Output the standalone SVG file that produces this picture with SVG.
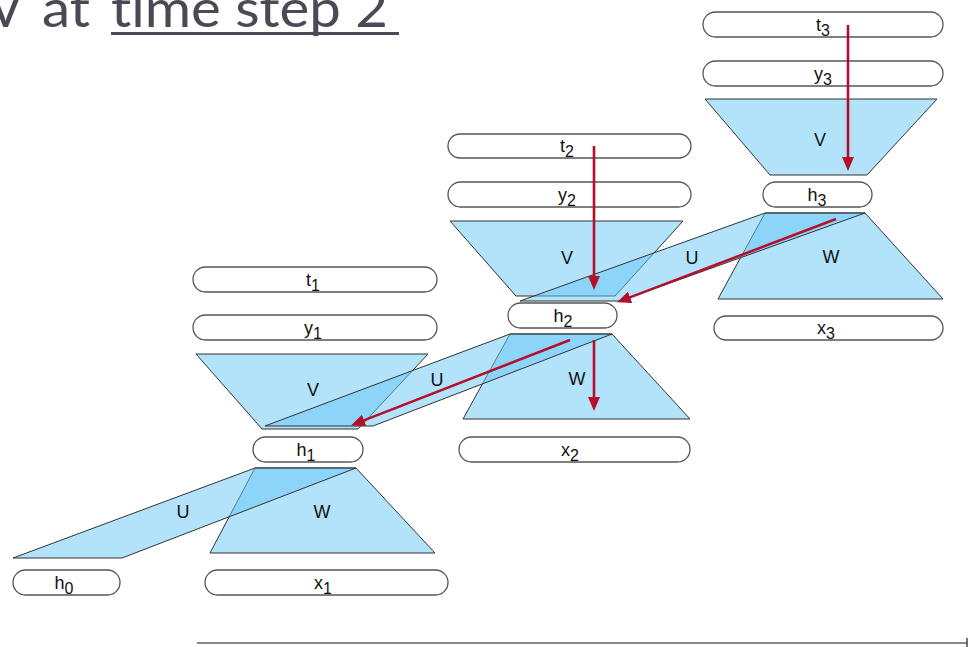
<svg xmlns="http://www.w3.org/2000/svg" width="968" height="647" viewBox="0 0 968 647">
<style>
.title{font-family:"Lato","Open Sans",sans-serif;font-size:52px;fill:#4a4a55;font-variant-ligatures:none}
.pill{fill:#fff;stroke:#555;stroke-width:1.3}
.tz{fill:#66c8f7;fill-opacity:0.5;stroke:#333;stroke-width:1}
.lbl{font-family:"Liberation Sans",Arial,sans-serif;font-size:18px;fill:#111;text-anchor:middle}
.sub{font-size:16px}
.arr{stroke:#b5102b;stroke-width:2.6;fill:none}
</style>
<defs>
<marker id="ah" markerWidth="14" markerHeight="12" refX="3" refY="6" orient="auto" markerUnits="userSpaceOnUse">
<path d="M0,0 L14,6 L0,12 z" fill="#b5102b"/>
</marker>
</defs>
<rect width="968" height="647" fill="#fff"/>
<g id="title">
<text class="title" x="-12" y="27">V</text>
<text class="title" x="42" y="27" textLength="48" lengthAdjust="spacingAndGlyphs">at</text>
<text class="title" x="111" y="27" textLength="277" lengthAdjust="spacingAndGlyphs">time step 2</text>
<rect x="111" y="32" width="288" height="3" fill="#4a4a55"/>
</g>
<!-- column 3 -->
<g id="t3"><rect class="pill" x="703" y="12" width="240" height="25" rx="12.5"/><text class="lbl" x="823" y="31">t<tspan class="sub" dy="5">3</tspan></text></g>
<g id="y3"><rect class="pill" x="703" y="61" width="240" height="25" rx="12.5"/><text class="lbl" x="823" y="80">y<tspan class="sub" dy="5">3</tspan></text></g>
<g id="V3"><polygon class="tz" points="705,99 937,99 867,175 770,175"/><text class="lbl" x="820" y="146">V</text></g>
<g id="h3"><rect class="pill" x="763" y="182" width="109" height="25" rx="12.5"/><text class="lbl" x="817" y="201">h<tspan class="sub" dy="5">3</tspan></text></g>
<g id="W3"><polygon class="tz" points="765,213 865,213 943,299 718,299"/><text class="lbl" x="831" y="263">W</text></g>
<g id="x3"><rect class="pill" x="714" y="316" width="229" height="24" rx="12"/><text class="lbl" x="826" y="334">x<tspan class="sub" dy="5">3</tspan></text></g>
<!-- column 2 -->
<g id="t2"><rect class="pill" x="448" y="134" width="243" height="24" rx="12"/><text class="lbl" x="567" y="152">t<tspan class="sub" dy="5">2</tspan></text></g>
<g id="y2"><rect class="pill" x="448" y="182" width="243" height="25" rx="12.5"/><text class="lbl" x="567" y="201">y<tspan class="sub" dy="5">2</tspan></text></g>
<g id="V2"><polygon class="tz" points="450,221 683,221 615,296 516,296"/><text class="lbl" x="567" y="264">V</text></g>
<g id="U23"><polygon class="tz" points="520,301 620,301 865,213 765,213"/><text class="lbl" x="692" y="264">U</text></g>
<g id="h2"><rect class="pill" x="508" y="303" width="109" height="25" rx="12.5"/><text class="lbl" x="563" y="322">h<tspan class="sub" dy="5">2</tspan></text></g>
<g id="W2"><polygon class="tz" points="510,334 612,334 690,419 463,419"/><text class="lbl" x="577" y="385">W</text></g>
<g id="x2"><rect class="pill" x="459" y="437" width="231" height="25" rx="12.5"/><text class="lbl" x="570" y="456">x<tspan class="sub" dy="5">2</tspan></text></g>
<!-- column 1 -->
<g id="t1"><rect class="pill" x="193" y="267" width="244" height="25" rx="12.5"/><text class="lbl" x="313" y="286">t<tspan class="sub" dy="5">1</tspan></text></g>
<g id="y1"><rect class="pill" x="193" y="315" width="244" height="25" rx="12.5"/><text class="lbl" x="313" y="334">y<tspan class="sub" dy="5">1</tspan></text></g>
<g id="V1"><polygon class="tz" points="196,354 428,354 358,429 262,429"/><text class="lbl" x="313" y="396">V</text></g>
<g id="U12"><polygon class="tz" points="265,426 373,426 612,334 510,334"/><text class="lbl" x="437" y="386">U</text></g>
<g id="h1"><rect class="pill" x="253" y="437" width="110" height="25" rx="12.5"/><text class="lbl" x="306" y="456">h<tspan class="sub" dy="5">1</tspan></text></g>
<g id="W1"><polygon class="tz" points="255,468 356,468 435,553 210,553"/><text class="lbl" x="322" y="518">W</text></g>
<g id="U01"><polygon class="tz" points="13,558 122,558 356,468 255,468"/><text class="lbl" x="183" y="518">U</text></g>
<g id="x1"><rect class="pill" x="205" y="570" width="243" height="25" rx="12.5"/><text class="lbl" x="323" y="589">x<tspan class="sub" dy="5">1</tspan></text></g>
<g id="h0"><rect class="pill" x="13" y="570" width="107" height="25" rx="12.5"/><text class="lbl" x="64" y="589">h<tspan class="sub" dy="5">0</tspan></text></g>
<g id="axis"><line x1="197" y1="643" x2="967" y2="643" stroke="#888" stroke-width="2"/><line x1="967" y1="638" x2="967" y2="647" stroke="#444" stroke-width="1.5"/></g>
<g id="connectors">
<path class="arr" d="M848,25 L848,160" marker-end="url(#ah)"/>
<path class="arr" d="M594,146 L594,279" marker-end="url(#ah)"/>
<path class="arr" d="M594,340 L594,400" marker-end="url(#ah)"/>
<path class="arr" d="M836,219 L627.3,298.4" marker-end="url(#ah)"/>
<path class="arr" d="M570,340 L361.3,421.4" marker-end="url(#ah)"/>
</g>
</svg>
